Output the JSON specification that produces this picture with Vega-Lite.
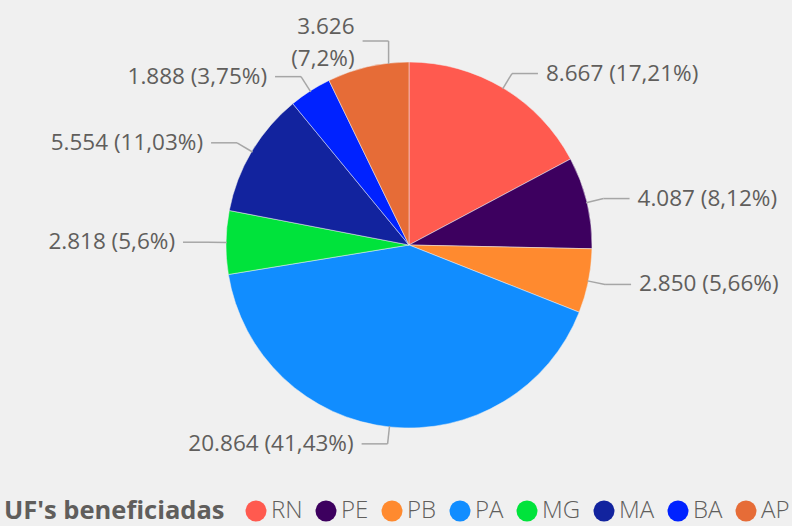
{
  "$schema": "https://vega.github.io/schema/vega-lite/v6.json",
  "width": 792,
  "height": 526,
  "padding": 0,
  "autosize": {"type": "none"},
  "background": "#f0f0f0",
  "config": {
    "view": {"stroke": null},
    "font": "Open Sans",
    "locale": {"number": {"decimal": ",", "thousands": ".", "grouping": [3], "currency": ["R$ ", ""]}}
  },
  "data": {
    "values": [
      {"uf": "RN", "valor": 8667},
      {"uf": "PE", "valor": 4087},
      {"uf": "PB", "valor": 2850},
      {"uf": "PA", "valor": 20864},
      {"uf": "MG", "valor": 2818},
      {"uf": "MA", "valor": 5554},
      {"uf": "BA", "valor": 1888},
      {"uf": "AP", "valor": 3626}
    ]
  },
  "transform": [
    {"window": [{"op": "row_number", "as": "idx"}]},
    {"joinaggregate": [{"op": "sum", "field": "valor", "as": "total"}]},
    {"window": [{"op": "sum", "field": "valor", "as": "cum"}], "sort": [{"field": "idx"}], "frame": [null, 0]},
    {"calculate": "(datum.cum - datum.valor / 2) / datum.total * 2 * PI", "as": "mid"},
    {"calculate": "abs(sin(datum.mid)) < 0.3 && cos(datum.mid) > 0", "as": "top"},
    {"calculate": "datum.top ? 91 * sin(datum.mid) : 182 * sin(datum.mid)", "as": "x0"},
    {"calculate": "datum.top ? 181 : 182 * cos(datum.mid)", "as": "y0"},
    {"calculate": "datum.top ? 91 * sin(datum.mid) : 200 * sin(datum.mid)", "as": "xe"},
    {"calculate": "datum.top ? 204 : 200 * cos(datum.mid)", "as": "ye"},
    {"calculate": "datum.xe >= 0 ? 1 : -1", "as": "side"},
    {"calculate": "datum.xe + datum.side * 26", "as": "xh"},
    {"calculate": "datum.xe + datum.side * 34", "as": "xt"},
    {"calculate": "datum.valor / datum.total * 100", "as": "pct"},
    {"calculate": "datum.top ? [format(datum.valor, ','), '(' + format(datum.pct, '.2~f') + '%)'] : format(datum.valor, ',') + ' (' + format(datum.pct, '.2~f') + '%)'", "as": "label"}
  ],
  "layer": [
    {
      "mark": {"type": "arc", "outerRadius": 183, "stroke": "#f0f0f0", "strokeWidth": 0.5},
      "encoding": {
        "x": {"datum": 0, "type": "quantitative", "scale": {"domain": [-409, 383], "range": [0, 792], "nice": false, "zero": false}, "axis": null},
        "y": {"datum": 0, "type": "quantitative", "scale": {"domain": [-281, 245], "range": [526, 0], "nice": false, "zero": false}, "axis": null},
        "theta": {"field": "valor", "type": "quantitative", "stack": true},
        "order": {"field": "idx", "type": "quantitative"},
        "color": {
          "field": "uf",
          "type": "nominal",
          "scale": {
            "domain": ["RN", "PE", "PB", "PA", "MG", "MA", "BA", "AP"],
            "range": ["#FF5A4F", "#3D005F", "#FF8A2F", "#118DFF", "#00E33B", "#12239E", "#0022FF", "#E66C37"]
          },
          "legend": {
            "title": "UF's beneficiadas",
            "orient": "none",
            "direction": "horizontal",
            "legendX": 4,
            "legendY": 499,
            "titleOrient": "left",
            "titleFontSize": 25.5,
            "titleFontWeight": "bold",
            "titleColor": "#605e5c",
            "titleLimit": 500,
            "titlePadding": 19,
            "labelFontSize": 24,
            "labelFontWeight": 300,
            "labelColor": "#605e5c",
            "labelOffset": 3,
            "symbolType": "circle",
            "symbolSize": 440,
            "symbolStrokeWidth": 0,
            "columnPadding": 11
          }
        }
      }
    },
    {
      "mark": {"type": "rule", "color": "#a6a6a6", "strokeWidth": 1.5},
      "encoding": {
        "x": {"field": "x0", "type": "quantitative"},
        "y": {"field": "y0", "type": "quantitative"},
        "x2": {"field": "xe"},
        "y2": {"field": "ye"}
      }
    },
    {
      "mark": {"type": "rule", "color": "#a6a6a6", "strokeWidth": 1.5},
      "encoding": {
        "x": {"field": "xe", "type": "quantitative"},
        "y": {"field": "ye", "type": "quantitative"},
        "x2": {"field": "xh"},
        "y2": {"field": "ye"}
      }
    },
    {
      "transform": [{"filter": "datum.side > 0 && !datum.top"}],
      "mark": {"type": "text", "align": "left", "baseline": "middle", "fontSize": 22.5, "color": "#605e5c"},
      "encoding": {
        "x": {"field": "xt", "type": "quantitative"},
        "y": {"field": "ye", "type": "quantitative"},
        "text": {"field": "label"}
      }
    },
    {
      "transform": [{"filter": "datum.side < 0 && !datum.top"}],
      "mark": {"type": "text", "align": "right", "baseline": "middle", "fontSize": 22.5, "color": "#605e5c"},
      "encoding": {
        "x": {"field": "xt", "type": "quantitative"},
        "y": {"field": "ye", "type": "quantitative"},
        "text": {"field": "label"}
      }
    },
    {
      "transform": [{"filter": "datum.top"}],
      "mark": {"type": "text", "align": "right", "baseline": "middle", "fontSize": 22.5, "color": "#605e5c", "lineHeight": 32, "dy": -14},
      "encoding": {
        "x": {"field": "xt", "type": "quantitative"},
        "y": {"field": "ye", "type": "quantitative"},
        "text": {"field": "label"}
      }
    }
  ]
}
